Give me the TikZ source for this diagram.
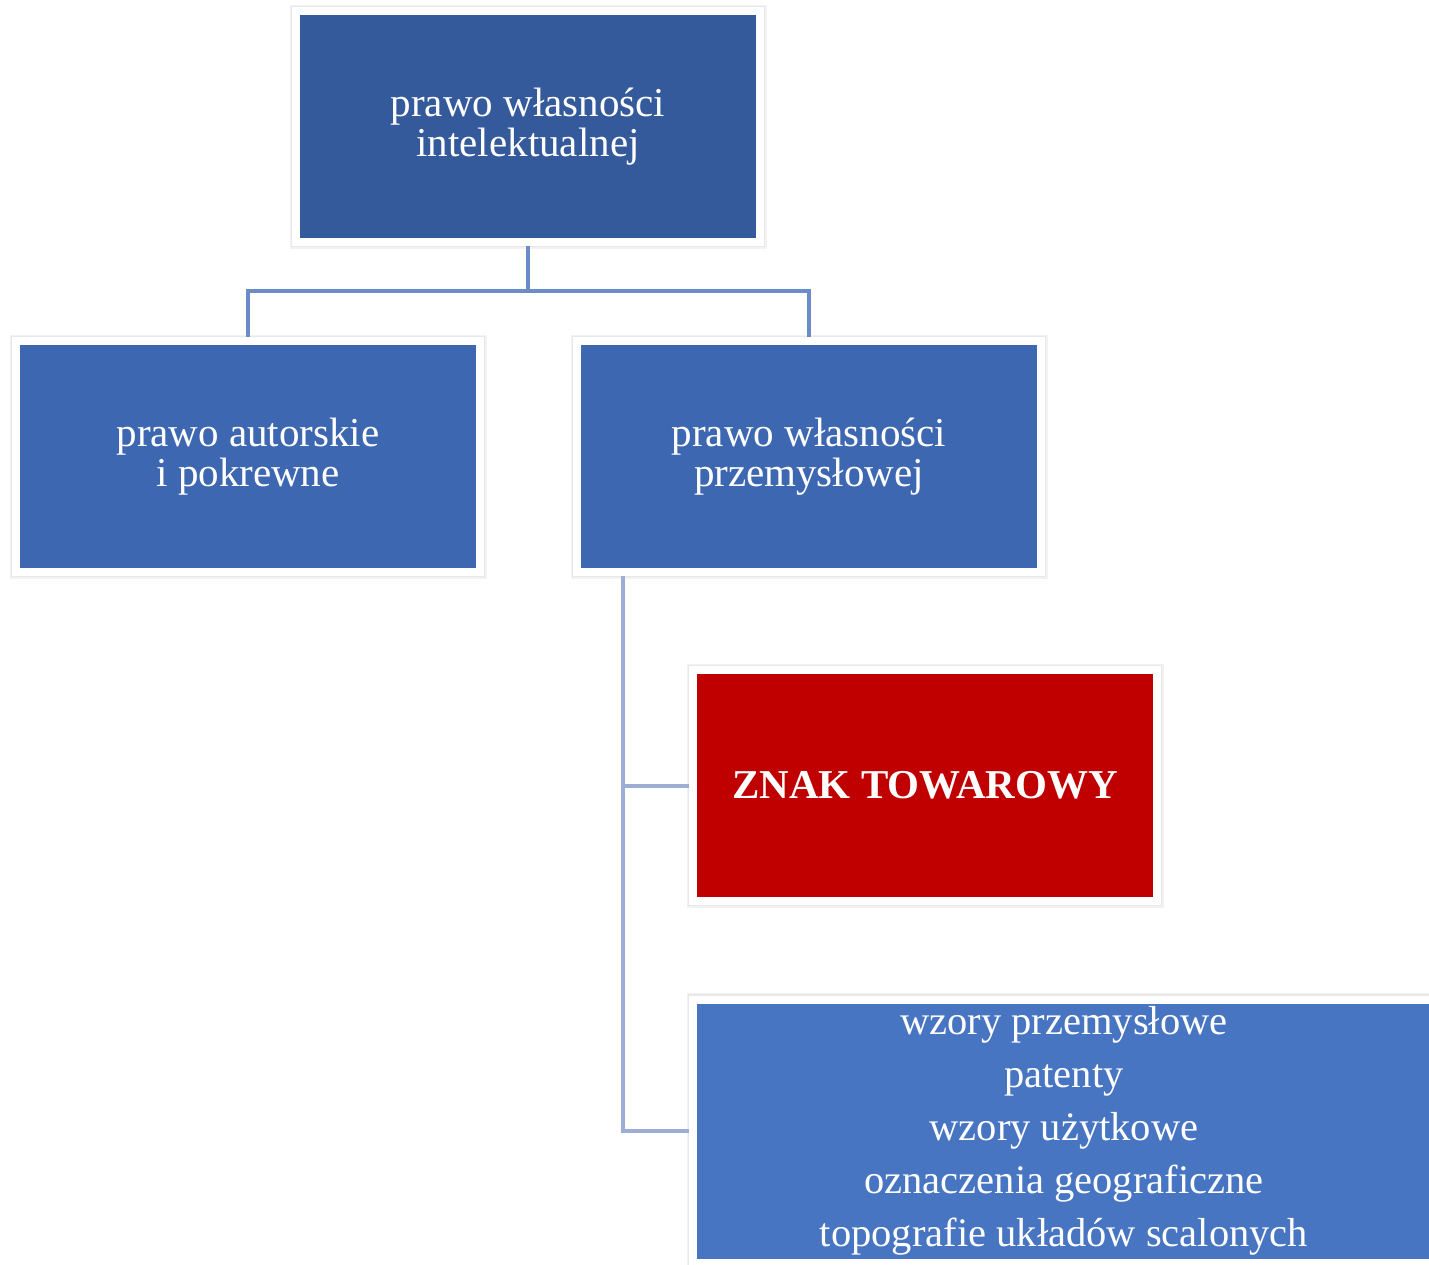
\documentclass[tikz,border=0pt]{standalone}
\usepackage{fontspec}
\setmainfont{Liberation Serif}
\definecolor{topblue}{HTML}{345A9B}
\definecolor{midblue}{HTML}{3E67B1}
\definecolor{lowblue}{HTML}{4775C2}
\definecolor{darkred}{HTML}{C00000}
\definecolor{linkA}{HTML}{6C8CC9}
\definecolor{linkB}{HTML}{9CAED6}
\begin{document}
\begin{tikzpicture}[x=1pt,y=-1pt,
  box/.style={draw=white, line width=8pt, text=white, align=center,
    minimum width=464pt, minimum height=231pt, inner sep=0pt,
    preaction={draw=black!5, line width=13pt},
    preaction={draw=black!9, line width=10.5pt},
    font=\fontsize{41}{40}\selectfont},
  linkone/.style={draw=linkA, line width=4pt},
  linktwo/.style={draw=linkB, line width=4pt}]
\useasboundingbox (0,0) rectangle (1429,1265);
\clip (0,0) rectangle (1429,1265);
\node[box, fill=topblue] (top) at (528,126.75) {prawo własności\\intelektualnej};
\node[box, fill=midblue] (left) at (248,456.5) {prawo autorskie\\i pokrewne};
\node[box, fill=midblue] (right) at (809,456.5) {prawo własności\\przemysłowej};
\node[box, fill=darkred, font=\fontsize{41}{40}\selectfont\bfseries] (red) at (925,785.5) {ZNAK TOWAROWY};
\node[box, fill=lowblue, minimum width=742pt, minimum height=263pt,
  font=\fontsize{40.5}{53}\selectfont] (list) at (1064,1131)
  {wzory przemysłowe\\patenty\\wzory użytkowe\\oznaczenia geograficzne\\topografie układów scalonych};
\draw[linkone] (top.south) -- ++(0,45) coordinate (hub);
\draw[linkone] (hub) -| (left.north);
\draw[linkone] (hub) -| (right.north);
\draw[linktwo] (right.south west) ++(50,0) coordinate (stem) |- (red.west);
\draw[linktwo] (stem) |- (list.west);
\end{tikzpicture}
\end{document}
